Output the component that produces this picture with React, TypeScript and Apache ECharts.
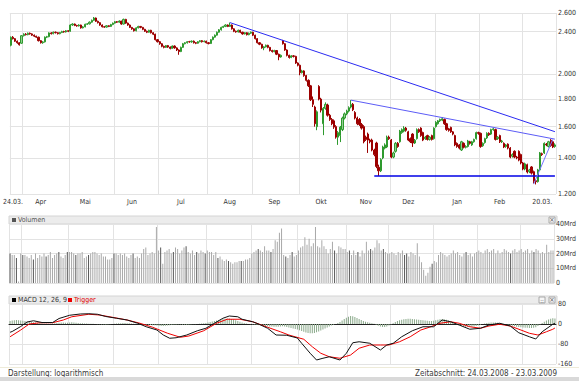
import React, { useEffect, useRef } from 'react';
import * as echarts from 'echarts';

const FONT = '"Liberation Sans Narrow", "Arial Narrow", "DejaVu Sans Condensed", "Liberation Sans", Arial, sans-serif';

// ---------- data ----------
const periodStart = '2008-03-24';
const periodEnd = '2009-03-23';
const exchangeHolidays = ['2008-05-01', '2008-12-25', '2008-12-26', '2009-01-01'];

const xTickLabels: [string, string][] = [
  ['2008-03-25', '24.03.'], ['2008-04-11', 'Apr'], ['2008-05-13', 'Mai'], ['2008-06-12', 'Jun'],
  ['2008-07-15', 'Jul'], ['2008-08-15', 'Aug'], ['2008-09-15', 'Sep'], ['2008-10-15', 'Okt'],
  ['2008-11-13', 'Nov'], ['2008-12-11', 'Dez'], ['2009-01-16', 'Jan'], ['2009-02-13', 'Feb'],
  ['2009-03-13', '20.03.'],
];
const priceTicks = [1200, 1400, 1600, 1800, 2000, 2400, 2600];
const priceMin = 1200;
const priceMax = 2600;
const volumeMin = 0;
const volumeMax = 40;
const volumeStep = 10;
const macdMin = -160;
const macdMax = 80;
const macdStep = 80;

// [open, close, low, high]
const ohlc: number[][] = [
  [2265,2344,2255,2352],[2344,2330,2322,2356],[2330,2305,2298,2336],[2305,2290,2280,2312],[2290,2270,2262,2296],
  [2285,2360,2278,2366],[2360,2375,2352,2384],[2375,2370,2362,2386],[2370,2385,2364,2392],[2385,2378,2370,2392],
  [2378,2365,2358,2384],[2365,2355,2346,2372],[2355,2345,2338,2360],[2345,2310,2302,2350],[2310,2290,2282,2316],
  [2290,2298,2280,2306],[2298,2345,2292,2352],[2345,2350,2336,2358],[2350,2388,2344,2394],[2388,2380,2372,2396],
  [2380,2395,2374,2402],[2395,2390,2382,2402],[2390,2380,2372,2396],[2380,2392,2374,2398],[2392,2402,2386,2410],
  [2402,2398,2390,2410],[2398,2410,2392,2418],[2410,2405,2396,2416],[2405,2470,2400,2478],[2470,2480,2462,2488],
  [2480,2465,2458,2486],[2465,2460,2452,2472],[2460,2470,2454,2478],[2470,2440,2432,2474],[2440,2450,2434,2458],
  [2450,2478,2446,2484],[2478,2482,2470,2490],[2482,2500,2476,2508],[2500,2520,2494,2528],[2520,2545,2514,2556],
  [2545,2510,2502,2550],[2510,2495,2486,2516],[2495,2470,2462,2500],[2470,2452,2444,2476],[2452,2448,2440,2460],
  [2448,2462,2442,2468],[2462,2455,2448,2468],[2455,2475,2450,2482],[2475,2490,2468,2496],[2490,2505,2484,2512],
  [2505,2500,2492,2512],[2500,2512,2494,2520],[2512,2480,2472,2516],[2480,2530,2476,2538],[2530,2490,2482,2536],
  [2490,2470,2462,2496],[2470,2445,2438,2476],[2445,2430,2420,2450],[2430,2410,2402,2436],[2410,2440,2404,2446],
  [2440,2455,2434,2462],[2455,2445,2436,2460],[2445,2425,2416,2450],[2425,2405,2398,2430],[2405,2395,2386,2412],
  [2395,2415,2390,2420],[2415,2390,2382,2420],[2390,2375,2366,2396],[2375,2320,2312,2380],[2320,2300,2292,2326],
  [2300,2280,2270,2306],[2280,2255,2246,2286],[2255,2245,2236,2262],[2245,2262,2240,2268],[2262,2248,2240,2268],
  [2248,2235,2226,2254],[2235,2258,2230,2264],[2258,2240,2232,2264],[2240,2220,2210,2246],[2220,2205,2175,2226],
  [2205,2245,2200,2252],[2245,2280,2240,2288],[2280,2290,2274,2296],[2290,2300,2282,2306],[2300,2298,2290,2308],
  [2298,2305,2290,2312],[2305,2290,2282,2312],[2290,2285,2276,2296],[2285,2300,2280,2306],[2300,2310,2294,2316],
  [2310,2300,2292,2316],[2300,2305,2294,2312],[2305,2290,2282,2310],[2290,2282,2274,2296],[2282,2320,2278,2326],
  [2320,2345,2314,2352],[2345,2365,2340,2372],[2365,2395,2360,2402],[2395,2420,2390,2428],[2420,2445,2412,2452],
  [2445,2455,2438,2462],[2455,2470,2448,2478],[2470,2455,2448,2476],[2455,2470,2450,2495],[2470,2430,2422,2476],
  [2430,2405,2396,2436],[2405,2398,2390,2412],[2398,2415,2392,2422],[2415,2395,2386,2420],[2395,2378,2370,2400],
  [2378,2390,2372,2396],[2390,2370,2362,2396],[2370,2385,2364,2392],[2385,2395,2378,2402],[2395,2365,2356,2400],
  [2365,2330,2322,2370],[2330,2290,2282,2336],[2290,2275,2266,2296],[2275,2240,2232,2280],[2240,2250,2218,2256],
  [2250,2265,2244,2272],[2265,2245,2236,2270],[2245,2215,2206,2250],[2215,2205,2196,2222],[2205,2215,2198,2222],
  [2215,2180,2172,2220],[2180,2155,2125,2186],[2155,2170,2148,2178],[2310,2280,2272,2318],[2280,2220,2212,2286],
  [2220,2170,2160,2226],[2170,2150,2140,2176],[2150,2165,2144,2172],[2165,2160,2150,2172],[2160,2100,2092,2166],
  [2100,2080,2070,2106],[2080,2015,1993,2086],[2015,2030,2008,2040],[2030,1990,1980,2036],[1990,1950,1940,1996],
  [1950,1905,1895,1958],[1905,1795,1785,1912],[1795,1760,1740,1820],[1740,1620,1600,1750],[1600,1705,1576,1715],
  [1900,1800,1790,1910],[1800,1717,1700,1810],[1620,1730,1543,1740],[1730,1760,1720,1775],[1755,1680,1670,1765],
  [1680,1650,1640,1690],[1650,1620,1610,1660],[1640,1597,1585,1650],[1600,1530,1520,1610],[1530,1560,1480,1570],
  [1540,1597,1498,1605],[1580,1660,1570,1670],[1660,1690,1650,1700],[1690,1710,1680,1720],[1710,1735,1700,1745],
  [1740,1760,1730,1792],[1760,1720,1710,1770],[1700,1660,1650,1710],[1660,1620,1610,1670],[1650,1615,1605,1660],
  [1615,1590,1580,1625],[1600,1500,1490,1610],[1530,1515,1505,1540],[1550,1511,1430,1560],[1511,1500,1490,1520],
  [1511,1448,1440,1520],[1448,1420,1410,1456],[1492,1350,1340,1500],[1345,1325,1296,1360],[1325,1390,1318,1398],
  [1400,1467,1392,1475],[1460,1480,1452,1490],[1467,1530,1460,1540],[1530,1520,1512,1540],[1511,1405,1398,1518],
  [1405,1430,1398,1438],[1440,1490,1432,1498],[1490,1470,1462,1498],[1500,1570,1494,1578],[1560,1580,1552,1588],
  [1570,1590,1562,1603],[1590,1575,1566,1598],[1565,1511,1504,1572],[1520,1500,1492,1528],[1550,1492,1467,1556],
  [1492,1510,1486,1518],[1520,1580,1514,1588],[1580,1565,1558,1588],[1590,1540,1532,1596],[1560,1511,1504,1566],
  [1520,1530,1512,1538],[1540,1515,1508,1546],[1515,1530,1508,1536],[1540,1515,1508,1546],[1520,1590,1514,1596],
  [1600,1630,1594,1638],[1620,1640,1614,1646],[1640,1650,1632,1656],[1645,1655,1638,1667],[1650,1620,1612,1656],
  [1620,1580,1572,1626],[1585,1575,1566,1592],[1595,1565,1558,1600],[1565,1550,1542,1570],[1540,1480,1472,1546],
  [1490,1470,1462,1496],[1480,1460,1452,1486],[1448,1500,1442,1506],[1490,1465,1458,1496],[1465,1470,1458,1478],
  [1470,1505,1464,1512],[1500,1490,1482,1506],[1480,1500,1474,1506],[1500,1515,1494,1520],[1520,1560,1514,1566],
  [1560,1555,1546,1566],[1555,1470,1462,1560],[1475,1490,1468,1496],[1495,1520,1488,1526],[1525,1555,1518,1562],
  [1555,1545,1538,1562],[1550,1580,1544,1586],[1580,1585,1572,1592],[1580,1515,1508,1586],[1520,1530,1512,1536],
  [1540,1500,1492,1546],[1500,1505,1492,1512],[1490,1467,1460,1496],[1470,1480,1462,1486],[1485,1460,1452,1490],
  [1460,1405,1398,1466],[1410,1420,1402,1428],[1440,1405,1398,1446],[1405,1400,1392,1412],[1440,1387,1380,1446],
  [1420,1370,1362,1426],[1370,1335,1328,1376],[1335,1365,1328,1372],[1360,1318,1310,1366],[1320,1330,1312,1336],
  [1347,1312,1304,1352],[1320,1268,1255,1326],[1270,1265,1250,1278],[1265,1330,1260,1336],[1330,1430,1326,1436],
  [1425,1420,1412,1432],[1430,1490,1424,1496],[1485,1480,1472,1492],[1470,1500,1464,1506],[1510,1475,1468,1517],
  [1500,1467,1460,1506],[1470,1480,1462,1490],
];

// volume in Mrd
const volume: number[] = [
  20,19,19,17,1,20,
  19,19,18,17,19,16,20,17,19,18,20,18,19,21,17,19,20,21,18,17,19,21,
  21,21,20,19,20,20,21,17,18,19,20,21,21,20,19,20,18,18,16,16,17,
  20,20,19,20,19,20,18,17,19,20,17,18,17,20,23,24,19,20,21,20,38,
  22,24,13,21,22,23,20,21,24,23,20,22,24,25,21,20,22,19,21,20,22,21,20,
  22,21,21,19,21,17,18,16,15,16,15,14,13,14,14,15,15,15,16,16,17,
  20,21,22,23,22,21,25,22,22,21,23,29,28,34,37,19,18,17,19,21,18,19,
  22,24,25,31,26,30,25,27,38,25,24,29,25,23,20,23,28,22,20,25,24,23,23,
  21,22,19,22,19,21,18,22,20,28,22,23,22,24,29,27,22,23,21,20,
  20,21,20,19,21,20,22,19,20,18,21,20,19,27,18,14,9,5,7,11,13,15,14,
  19,21,20,19,18,19,20,22,20,21,19,18,20,21,19,20,18,20,21,
  22,21,20,22,23,21,22,23,20,22,20,21,23,22,21,20,22,23,21,22,
  23,21,22,23,20,22,21,23,22,20,21,20,26,21,22,22,
];
const darkVolumeDays = [0,3,6,11,17,23,27,31,37,49,58,71,77,83,88,92,98,103,109,117,123,130,133,153,160,164,170,176,186,187,199,215,236,247];

// MACD 12,26,9 and trigger, read at [trading-day index, value]
const macdPoints: [number, number][] = [
  [0,-33],[1,-30],[5,-10],[8,8],[11,13],[15,6],[20,6],[23,22],[28,35],[33,40],[37,41],[41,39],[45,30],[50,23],
  [55,16],[60,3],[64,-11],[69,-24],[72,-44],[75,-57],[78,-55],[83,-44],[88,-27],[92,-17],[96,3],[100,23],[103,32],
  [107,29],[109,19],[114,9],[117,-1],[121,-17],[125,-44],[130,-45],[135,-56],[137,-77],[141,-117],[144,-144],
  [147,-137],[150,-131],[155,-144],[158,-117],[161,-75],[164,-71],[169,-77],[174,-104],[177,-84],[180,-77],
  [184,-51],[189,-27],[194,-11],[199,-11],[203,16],[207,9],[211,-4],[216,-21],[221,-17],[225,-4],[230,3],
  [235,-8],[239,-35],[244,-51],[247,-60],[250,-31],[255,-1],[256,3],
];
const triggerPoints: [number, number][] = [
  [0,-51],[5,-24],[9,0],[14,5],[20,5],[25,16],[29,29],[37,39],[42,36],[48,27],[55,16],[61,3],[67,-13],[74,-37],
  [80,-53],[84,-48],[91,-27],[97,3],[102,19],[108,19],[114,9],[121,-13],[127,-31],[131,-44],[138,-61],[142,-91],
  [146,-117],[150,-131],[155,-137],[160,-124],[164,-97],[169,-84],[174,-84],[178,-84],[183,-71],[188,-51],
  [193,-24],[197,-13],[202,3],[207,9],[211,3],[216,-11],[221,-17],[225,-8],[230,-1],[235,-8],[240,-24],
  [244,-37],[248,-44],[252,-31],[255,-21],[256,-16],
];
const histogram: number[] = [
  12,14,15,16,15,14,13,12,10,9,8,7,6,5,4,3,
  2,2,1,1,2,3,4,5,6,6,5,5,
  6,7,6,5,4,3,3,2,2,1,1,1,0,-1,-1,-2,-2,-3,
  -2,-1,0,1,2,3,3,4,4,3,3,2,1,1,0,
  -1,-2,-2,-3,-3,-4,-5,-5,-6,-7,-8,-8,-7,-6,-5,-4,-3,-3,-2,-2,-3,-3,-4,-3,-2,-1,-1,0,1,2,3,4,
  6,8,10,12,14,16,18,20,21,22,22,20,18,15,12,9,6,4,
  2,0,-1,-2,-3,-4,-5,-6,-7,-8,-9,-10,-10,-11,-11,
  -11,-10,-9,-10,-12,-14,-16,-18,-20,-22,-25,-28,-31,-34,-36,
  -37,-37,-36,-33,-30,-26,-22,-18,-14,-10,-6,-3,0,4,8,14,
  20,25,29,32,31,28,24,20,16,12,9,7,5,3,1,
  -3,-7,-10,-12,-12,-10,-6,
  -2,3,8,12,15,17,19,20,21,21,20,19,18,17,16,15,14,13,12,12,13,15,17,19,20,19,17,14,
  10,6,2,-2,-5,-8,-10,-11,-12,-12,-11,-10,-8,-6,
  -3,0,2,4,5,6,6,6,5,4,3,1,
  -1,-3,-5,-7,-9,-11,-12,-13,-14,-15,-15,-16,-16,-15,-13,
  -8,-2,4,9,14,18,21,23,22,
];

// trend lines: [date, price] -> [date, price]
const trendLines: [[string, number], [string, number]][] = [
  [['2008-08-15', 2496], ['2009-03-23', 1566]],
  [['2008-11-04', 1792], ['2009-03-23', 1517]],
  [['2008-11-19', 1296], ['2009-03-23', 1296]],
  [['2009-03-09', 1252], ['2009-03-20', 1515]],
];
const trendStyles = [
  { color: '#2b2bf2', width: 1 },
  { color: '#5c5cf6', width: 1 },
  { color: '#0000e6', width: 1.5 },
  { color: '#7474ff', width: 1 },
];

// ---------- helpers ----------
function tradingDays(): string[] {
  const out: string[] = [];
  const d = new Date(periodStart + 'T00:00:00Z');
  const end = new Date(periodEnd + 'T00:00:00Z');
  while (d.getTime() <= end.getTime()) {
    const wd = d.getUTCDay();
    const key = d.toISOString().slice(0, 10);
    if (wd !== 0 && wd !== 6 && exchangeHolidays.indexOf(key) < 0) out.push(key);
    d.setUTCDate(d.getUTCDate() + 1);
  }
  return out;
}
const dotted = (n: number) => String(n).replace(/\B(?=(\d{3})+(?!\d))/g, '.');

const GRID = '#e3e3e3';
const LABEL = '#333';

export default function App() {
  const ref = useRef<HTMLDivElement>(null);
  useEffect(() => {
    if (!ref.current) return;
    const chart = echarts.init(ref.current, null, { renderer: 'svg', width: 579, height: 381 });
    const days = tradingDays();
    const monthStarts = new Set<number>();
    days.forEach((d, i) => {
      if (i === 0 || d.slice(0, 7) !== days[i - 1].slice(0, 7)) monthStarts.add(i);
    });
    const labelMap = new Map(xTickLabels);
    const lg = (v: number) => Math.log10(v);

    const makeX = (gridIndex: number) => ({
      type: 'category',
      gridIndex,
      data: days,
      boundaryGap: true,
      axisLine: gridIndex === 2
        ? { show: true, onZero: true, lineStyle: { color: '#222', width: 1 } }
        : { show: false },
      axisTick: { show: false },
      axisLabel: gridIndex === 0
        ? {
            show: true,
            interval: (_i: number, v: string) => labelMap.has(v),
            formatter: (v: string) => labelMap.get(v) || '',
            fontSize: 7,
            fontFamily: FONT,
            color: LABEL,
            margin: 4,
          }
        : { show: false },
      splitLine: {
        show: true,
        interval: (i: number) => monthStarts.has(i),
        lineStyle: { color: GRID, width: 1 },
      },
    });

    const yLabel = { fontSize: 7, fontFamily: FONT, color: LABEL, margin: 2 };
    const logTicks = priceTicks.map(lg);

    const option: any = {
      animation: false,
      backgroundColor: '#ffffff',
      textStyle: { fontFamily: FONT },
      grid: [
        { left: 9, top: 13, width: 547, height: 181 },
        { left: 9, top: 224, width: 547, height: 59 },
        { left: 9, top: 304, width: 547, height: 60 },
      ],
      xAxis: [makeX(0), makeX(1), makeX(2)],
      yAxis: [
        {
          type: 'value', gridIndex: 0, position: 'right',
          min: lg(priceMin), max: lg(priceMax),
          axisLine: { show: false },
          axisTick: { show: false, customValues: logTicks },
          axisLabel: { ...yLabel, customValues: logTicks, formatter: (v: number) => dotted(Math.round(Math.pow(10, v))) },
          splitLine: { show: true, lineStyle: { color: GRID } },
        },
        {
          type: 'value', gridIndex: 1, position: 'right',
          min: volumeMin, max: volumeMax, interval: volumeStep,
          axisLine: { show: false }, axisTick: { show: false },
          axisLabel: { ...yLabel, formatter: (v: number) => (v === 0 ? '0' : v + 'Mrd') },
          splitLine: { show: true, lineStyle: { color: GRID } },
        },
        {
          type: 'value', gridIndex: 2, position: 'right',
          min: macdMin, max: macdMax, interval: macdStep,
          axisLine: { show: false }, axisTick: { show: false },
          axisLabel: { ...yLabel },
          splitLine: { show: true, lineStyle: { color: GRID } },
        },
      ],
      series: [
        {
          type: 'candlestick', xAxisIndex: 0, yAxisIndex: 0,
          data: ohlc.map((r) => r.map(lg)),
          barWidth: 1.7,
          itemStyle: {
            color: '#93cf93', borderColor: '#2e9a2e',
            color0: '#9c0000', borderColor0: '#9c0000',
            borderWidth: 1,
          },
          markLine: {
            silent: true, symbol: ['none', 'none'], label: { show: false },
            data: trendLines.map((t, k) => [
              { coord: [t[0][0], lg(t[0][1])], lineStyle: { color: trendStyles[k].color, width: trendStyles[k].width, type: 'solid' } },
              { coord: [t[1][0], lg(t[1][1])] },
            ]),
          },
        },
        {
          type: 'bar', xAxisIndex: 1, yAxisIndex: 1, barWidth: 1,
          data: volume.map((v, i) => ({
            value: v,
            itemStyle: { color: darkVolumeDays.indexOf(i) >= 0 ? '#575757' : '#a9a9a9' },
          })),
        },
        {
          type: 'bar', xAxisIndex: 2, yAxisIndex: 2, barWidth: 1,
          itemStyle: { color: '#8aa98a' },
          data: histogram,
        },
        {
          type: 'line', xAxisIndex: 2, yAxisIndex: 2, data: macdPoints,
          symbol: 'none', lineStyle: { color: '#111', width: 1 }, z: 4,
        },
        {
          type: 'line', xAxisIndex: 2, yAxisIndex: 2, data: triggerPoints,
          symbol: 'none', lineStyle: { color: '#f00000', width: 1 }, z: 3,
        },
      ],
      graphic: [
        // volume panel header
        { type: 'rect', silent: true, shape: { x: 9, y: 216, width: 548, height: 8 }, style: { fill: '#ececec', stroke: '#d4d4d4', lineWidth: 1 } },
        { type: 'rect', silent: true, shape: { x: 12, y: 218, width: 4, height: 4 }, style: { fill: '#555' } },
        { type: 'text', silent: true, x: 18, y: 220, style: { text: 'Volumen', fontSize: 7, fontFamily: FONT, fill: '#555', align: 'left', verticalAlign: 'middle' } },
        { type: 'rect', silent: true, shape: { x: 549, y: 217, width: 6, height: 6 }, style: { fill: '#f6f6f6', stroke: '#9a9a9a', lineWidth: 0.8 } },
        { type: 'text', silent: true, x: 552, y: 220, style: { text: '×', fontSize: 7, fontFamily: FONT, fill: '#555', align: 'center', verticalAlign: 'middle' } },
        // MACD panel header
        { type: 'rect', silent: true, shape: { x: 9, y: 296, width: 548, height: 8 }, style: { fill: '#ececec', stroke: '#d4d4d4', lineWidth: 1 } },
        { type: 'rect', silent: true, shape: { x: 12, y: 298, width: 4, height: 4 }, style: { fill: '#000' } },
        { type: 'text', silent: true, x: 18, y: 300, style: { text: 'MACD 12, 26, 9', fontSize: 7, fontFamily: FONT, fill: '#333', align: 'left', verticalAlign: 'middle' } },
        { type: 'rect', silent: true, shape: { x: 68, y: 298, width: 4, height: 4 }, style: { fill: '#ee0000' } },
        { type: 'text', silent: true, x: 74, y: 300, style: { text: 'Trigger', fontSize: 7, fontFamily: FONT, fill: '#e00000', align: 'left', verticalAlign: 'middle' } },
        { type: 'rect', silent: true, shape: { x: 539, y: 297, width: 6, height: 6 }, style: { fill: '#f6f6f6', stroke: '#9a9a9a', lineWidth: 0.8 } },
        { type: 'text', silent: true, x: 542, y: 300, style: { text: '::', fontSize: 6, fontFamily: FONT, fill: '#555', align: 'center', verticalAlign: 'middle' } },
        { type: 'rect', silent: true, shape: { x: 549, y: 297, width: 6, height: 6 }, style: { fill: '#f6f6f6', stroke: '#9a9a9a', lineWidth: 0.8 } },
        { type: 'text', silent: true, x: 552, y: 300, style: { text: '×', fontSize: 7, fontFamily: FONT, fill: '#555', align: 'center', verticalAlign: 'middle' } },
        // footer
        { type: 'rect', silent: true, shape: { x: 0, y: 367, width: 579, height: 1 }, style: { fill: '#eeebd9' } },
        { type: 'text', silent: true, x: 8, y: 373, style: { text: 'Darstellung: logarithmisch', fontSize: 8, fontFamily: FONT, fill: '#3a3a3a', align: 'left', verticalAlign: 'middle' } },
        { type: 'text', silent: true, x: 557, y: 373, style: { text: 'Zeitabschnitt: 24.03.2008 - 23.03.2009', fontSize: 8, fontFamily: FONT, fill: '#3a3a3a', align: 'right', verticalAlign: 'middle' } },
        { type: 'rect', silent: true, shape: { x: 0, y: 377, width: 579, height: 4 }, style: { fill: '#d9d9d9' } },
      ],
    };
    chart.setOption(option);
    return () => chart.dispose();
  }, []);
  return <div ref={ref} style={{ position: 'fixed', left: 0, top: 0, width: 579, height: 381, background: '#fff' }} />;
}
